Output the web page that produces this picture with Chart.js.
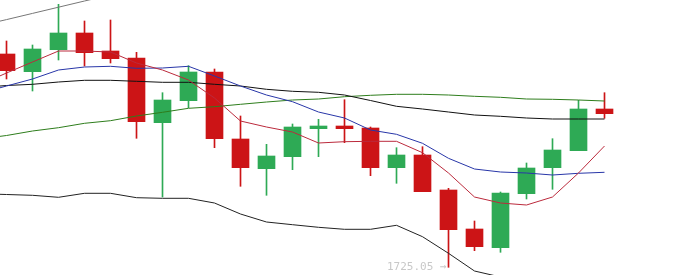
<!DOCTYPE html>
<html>
<head>
<meta charset="utf-8">
<script src="https://cdn.jsdelivr.net/npm/chart.js@4.4.1/dist/chart.umd.min.js"></script>
<style>
  html, body { margin: 0; padding: 0; background: #fff; }
  canvas { display: block; }
</style>
</head>
<body>
<canvas id="kline" width="681" height="275"></canvas>
<script>
// candle data (index = bar position)
const opens  = [1746.38, 1744.61, 1746.81, 1748.48, 1746.68, 1745.98, 1739.51, 1741.71, 1744.58, 1737.88, 1734.91, 1736.11,
                1738.91, 1739.18, 1738.98, 1735.01, 1736.28, 1732.78, 1728.88, 1727.01, 1732.41, 1735.01, 1736.71, 1740.88];
const highs  = [1747.68, 1747.28, 1751.35, 1749.68, 1749.78, 1746.55, 1742.51, 1745.21, 1744.88, 1740.18, 1737.35, 1739.38,
                1739.85, 1741.81, 1739.08, 1737.01, 1737.11, 1732.95, 1729.68, 1732.58, 1735.48, 1737.91, 1741.75, 1742.51];
const lows   = [1743.88, 1742.68, 1745.78, 1745.18, 1745.48, 1737.95, 1732.08, 1741.01, 1737.01, 1733.15, 1732.25, 1734.81,
                1736.11, 1737.51, 1734.21, 1733.45, 1732.61, 1725.05, 1726.71, 1726.55, 1731.88, 1732.85, 1736.71, 1739.95];
const closes = [1744.71, 1746.88, 1748.48, 1746.51, 1745.91, 1739.61, 1741.78, 1744.58, 1737.91, 1735.01, 1736.18, 1739.08,
                1739.18, 1738.91, 1735.01, 1736.28, 1732.61, 1728.81, 1727.11, 1732.48, 1734.98, 1736.78, 1740.88, 1740.41];

// indicator lines, first value belongs to the bar just left of the view (index -1)
const maShort = [1743.33, 1744.48, 1745.58, 1746.68, 1746.68, 1746.58, 1745.48, 1744.78, 1743.78, 1741.98, 1739.68, 1739.08, 1738.58,
                 1737.48, 1737.61, 1737.65, 1737.65, 1736.51, 1734.48, 1732.08, 1731.48, 1731.28, 1732.08, 1734.48, 1737.18];
const maMid   = [1742.46, 1743.18, 1743.88, 1744.78, 1745.08, 1745.15, 1744.95, 1744.98, 1745.15, 1744.18, 1743.18, 1742.28, 1741.61,
                 1740.58, 1739.98, 1738.78, 1738.35, 1737.45, 1735.95, 1734.88, 1734.58, 1734.48, 1734.28, 1734.45, 1734.55];
const maLong  = [1743.02, 1743.23, 1743.35, 1743.58, 1743.75, 1743.75, 1743.65, 1743.55, 1743.55, 1743.35, 1743.18, 1742.85, 1742.65,
                 1742.55, 1742.28, 1741.73, 1741.15, 1740.88, 1740.58, 1740.28, 1740.15, 1739.98, 1739.88, 1739.88, 1739.88];
const maSlow  = [1737.89, 1738.23, 1738.68, 1739.01, 1739.45, 1739.71, 1740.18, 1740.55, 1740.95, 1741.11, 1741.35, 1741.58, 1741.78,
                 1741.88, 1742.11, 1742.25, 1742.35, 1742.35, 1742.28, 1742.15, 1742.05, 1741.88, 1741.85, 1741.78, 1741.68];
const bandUpper = [1749.22, 1749.82, 1750.44, 1751.06, 1751.68, 1752.28, 1752.88, null, null, null, null, null, null,
                   null, null, null, null, null, null, null, null, null, null, null, null];
const bandLower = [1732.41, 1732.33, 1732.25, 1732.05, 1732.45, 1732.45, 1732.01, 1731.95, 1731.95, 1731.48, 1730.38, 1729.58, 1729.31,
                   1729.05, 1728.85, 1728.85, 1729.25, 1728.11, 1726.45, 1724.68, 1724.08, 1723.88, 1723.78, 1723.88, 1723.98];

const UP = '#2eaa55';
const DOWN = '#cc1416';

const candleColors = opens.map((o, i) => closes[i] >= o ? UP : DOWN);

function lineSet(values, color) {
    return {
        type: 'line',
        data: values.map((v, i) => ({ x: i - 1, y: v })),
        borderColor: color,
        borderWidth: 1,
        pointRadius: 0,
        tension: 0,
        fill: false,
        order: 0
    };
}

// marks the lowest low with its price
const lowLabel = {
    id: 'lowLabel',
    afterDatasetsDraw(chart) {
        const idx = lows.indexOf(Math.min(...lows));
        const x = chart.scales.x.getPixelForValue(idx);
        const y = chart.scales.y.getPixelForValue(lows[idx]);
        const ctx = chart.ctx;
        ctx.save();
        ctx.font = '11px "DejaVu Sans Mono"';
        ctx.fillStyle = '#c8c8c8';
        ctx.textAlign = 'right';
        ctx.textBaseline = 'alphabetic';
        ctx.fillText(lows[idx].toFixed(2) + ' →', x - 2, y + 2.5);
        ctx.restore();
    }
};

new Chart(document.getElementById('kline'), {
    type: 'bar',
    data: {
        datasets: [
            lineSet(maShort, '#bb2a3c'),
            lineSet(maMid, '#2836a8'),
            lineSet(maLong, '#111111'),
            lineSet(maSlow, '#2e7d1c'),
            lineSet(bandUpper, '#777777'),
            lineSet(bandLower, '#222222'),
            {
                data: opens.map((o, i) => ({ x: i, y: [o, closes[i]] })),
                backgroundColor: candleColors,
                barThickness: 17,
                grouped: false,
                order: 1
            },
            {
                data: lows.map((l, i) => ({ x: i, y: [l, highs[i]] })),
                backgroundColor: candleColors,
                barThickness: 1,
                grouped: false,
                order: 2
            }
        ]
    },
    options: {
        responsive: false,
        animation: false,
        devicePixelRatio: 1,
        layout: { padding: 0 },
        scales: {
            x: { type: 'linear', display: false, offset: false, min: -0.25, max: 25.9423 },
            y: { type: 'linear', display: false, beginAtZero: false, min: 1724.28, max: 1751.78 }
        },
        plugins: {
            legend: { display: false },
            tooltip: { enabled: false }
        }
    },
    plugins: [lowLabel]
});
</script>
</body>
</html>
